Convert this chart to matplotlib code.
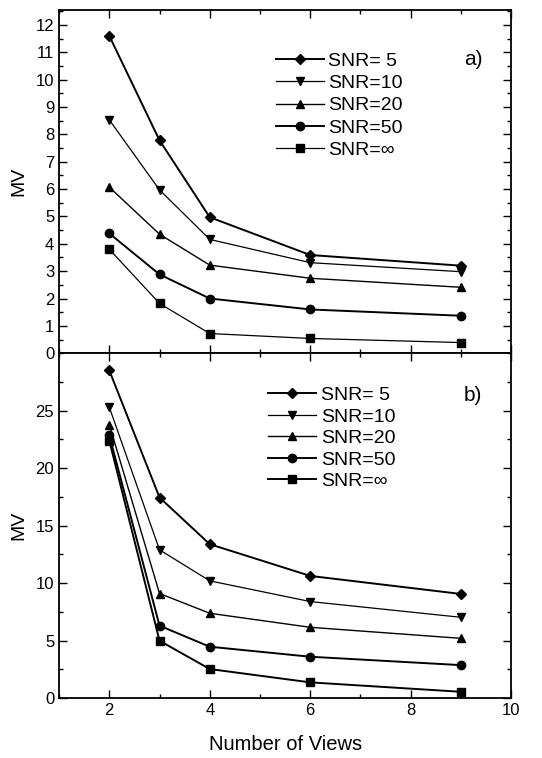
import matplotlib
matplotlib.use('Agg')
import matplotlib.pyplot as plt
from matplotlib.ticker import MultipleLocator

plt.rcParams['font.family'] = ['Liberation Sans', 'DejaVu Sans']

views = [2, 3, 4, 6, 9]
labels = ['SNR= 5', 'SNR=10', 'SNR=20', 'SNR=50', 'SNR=\u221e']
markers = ['D', 'v', '^', 'o', 's']

# panel a) values
mv_a = {
    'SNR= 5': [11.6, 7.78, 4.97, 3.59, 3.2],
    'SNR=10': [8.53, 5.97, 4.16, 3.31, 2.98],
    'SNR=20': [6.07, 4.35, 3.22, 2.74, 2.41],
    'SNR=50': [4.38, 2.88, 2.0, 1.6, 1.37],
    'SNR=\u221e': [3.8, 1.82, 0.72, 0.54, 0.39],
}
# panel b) values
mv_b = {
    'SNR= 5': [28.5, 17.45, 13.39, 10.63, 9.06],
    'SNR=10': [25.3, 12.9, 10.2, 8.4, 7.03],
    'SNR=20': [23.8, 9.1, 7.38, 6.16, 5.2],
    'SNR=50': [22.85, 6.3, 4.47, 3.6, 2.87],
    'SNR=\u221e': [22.4, 4.99, 2.53, 1.37, 0.55],
}
lw_a = [1.4, 0.9, 1.0, 1.4, 0.9]
lw_b = [1.4, 0.9, 1.0, 1.4, 1.4]

fig = plt.figure(figsize=(5.42, 7.58), dpi=100)
left, width = 0.109, 0.834
ax1 = fig.add_axes([left, 0.534, width, 0.453])
ax2 = fig.add_axes([left, 0.079, width, 0.455], sharex=ax1)

panels = [(ax1, mv_a, lw_a, (0.462, 0.899), 0.24),
          (ax2, mv_b, lw_b, (0.446, 0.926), 0.2)]
for ax, data, lws, anchor, lsp in panels:
    for lab, m, lw in zip(labels, markers, lws):
        ms = 5 if m == 'D' else 6
        ax.plot(views, data[lab], color='black', marker=m, markersize=ms,
                linewidth=lw, label=lab)
    ax.tick_params(direction='in', which='both', top=True, right=True,
                   labelsize=12, width=1.0)
    ax.tick_params(which='major', length=6)
    ax.tick_params(which='minor', length=3)
    for s in ax.spines.values():
        s.set_linewidth(1.3)
    ax.set_ylabel('MV', fontsize=14)
    ax.legend(loc='upper left', bbox_to_anchor=anchor, frameon=False,
              fontsize=14, handlelength=2.47, handletextpad=0.22,
              labelspacing=lsp, borderaxespad=0)

ax1.set_xlim(1, 10)
ax1.xaxis.set_major_locator(MultipleLocator(2))
ax1.xaxis.set_minor_locator(MultipleLocator(1))
ax1.tick_params(labelbottom=False)

ax1.set_ylim(0, 12.55)
ax1.set_yticks(range(0, 13))
ax1.yaxis.set_minor_locator(MultipleLocator(0.5))

ax2.set_ylim(0, 30)
ax2.set_yticks([0, 5, 10, 15, 20, 25])
ax2.yaxis.set_minor_locator(MultipleLocator(2.5))
ax2.set_xlabel('Number of Views', fontsize=14.5, labelpad=12)

ax1.text(0.916, 0.854, 'a)', transform=ax1.transAxes, fontsize=15,
         ha='center', va='center')
ax2.text(0.916, 0.878, 'b)', transform=ax2.transAxes, fontsize=15,
         ha='center', va='center')

ax1.yaxis.set_label_coords(-0.07, 0.5)
ax2.yaxis.set_label_coords(-0.07, 0.5)

fig.savefig('out.png', dpi=100, facecolor='white')
